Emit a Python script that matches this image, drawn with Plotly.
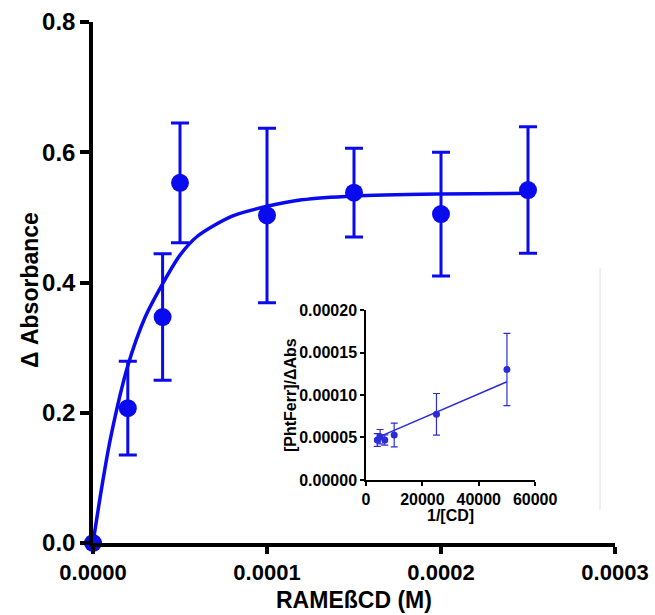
import plotly.graph_objects as go

# ---- Main data: absorbance change vs RAMEßCD concentration ----
conc_M = [0, 0.00002, 0.00004, 0.00005, 0.0001, 0.00015, 0.0002, 0.00025]
delta_abs = [0, 0.207, 0.347, 0.553, 0.503, 0.538, 0.505, 0.542]
delta_abs_err = [0, 0.072, 0.097, 0.092, 0.134, 0.068, 0.095, 0.097]

# fitted saturation curve
fit_x = [0, 0.000005, 0.00001, 0.00002, 0.00003, 0.00004, 0.00005, 0.00006,
         0.00008, 0.0001, 0.00012, 0.00015, 0.0002, 0.00025]
fit_y = [0, 0.085, 0.16, 0.272, 0.347, 0.398, 0.442, 0.471,
         0.502, 0.517, 0.527, 0.533, 0.536, 0.537]

# ---- Inset data: double reciprocal plot ----
inv_cd = [4000, 5000, 6667, 10000, 25000, 50000]
ratio = [0.0000471, 0.0000509, 0.0000471, 0.0000529, 0.0000773, 0.000130]
ratio_err = [0.0000075, 0.0000085, 0.000006, 0.000014, 0.0000245, 0.0000425]
line_x = [4000, 50000]
line_y = [0.0000498, 0.0001157]

main_x_ticks = [0, 0.0001, 0.0002, 0.0003]
main_y_ticks = [0, 0.2, 0.4, 0.6, 0.8]
inset_x_ticks = [0, 20000, 40000, 60000]
inset_y_ticks = [0, 0.00005, 0.0001, 0.00015, 0.0002]

BLUE = "#0a0aee"
IBLUE = "#2b2bd8"
FONT = "Liberation Sans, Arial, sans-serif"

fig = go.Figure()

fig.add_trace(go.Scatter(
    x=fit_x, y=fit_y, mode="lines", line=dict(color=BLUE, width=3.5, shape="spline", smoothing=0.8),
    hoverinfo="skip", showlegend=False, cliponaxis=False))
fig.add_trace(go.Scatter(
    x=conc_M, y=delta_abs, mode="markers",
    marker=dict(color=BLUE, size=18),
    error_y=dict(type="data", array=delta_abs_err, color=BLUE, thickness=3, width=9),
    showlegend=False, cliponaxis=False))

# inset
fig.add_trace(go.Scatter(
    x=line_x, y=line_y, mode="lines", line=dict(color=IBLUE, width=1.5),
    xaxis="x2", yaxis="y2", showlegend=False, hoverinfo="skip"))
fig.add_trace(go.Scatter(
    x=inv_cd, y=ratio, mode="markers",
    marker=dict(color=IBLUE, size=7),
    error_y=dict(type="data", array=ratio_err, color=IBLUE, thickness=1.2, width=3.5),
    xaxis="x2", yaxis="y2", showlegend=False, cliponaxis=False))

tickfont_x = dict(family=FONT, size=22, color="black", weight="bold")
tickfont_y = dict(family=FONT, size=24, color="black", weight="bold")
tickfont_inset = dict(family=FONT, size=16, color="black", weight="bold")
title_main = dict(family=FONT, size=23, color="black", weight="bold")
title_inset = dict(family=FONT, size=16, color="black", weight="bold")

fig.update_layout(
    width=655, height=615,
    margin=dict(l=93, r=40, t=22, b=72),
    paper_bgcolor="white", plot_bgcolor="rgba(0,0,0,0)",
    xaxis=dict(
        range=[0, 0.0003], tickvals=main_x_ticks, tickformat=".4f", automargin=False,
        showline=True, linecolor="black", linewidth=3.5,
        ticks="outside", ticklen=7, tickwidth=3.5, tickcolor="black",
        showgrid=False, zeroline=False, tickfont=tickfont_x,
    ),
    yaxis=dict(
        range=[0, 0.8], tickvals=main_y_ticks, tickformat=".1f", automargin=False,
        showline=True, linecolor="black", linewidth=3.5,
        ticks="outside", ticklen=9, tickwidth=3.5, tickcolor="black",
        showgrid=False, zeroline=False, tickfont=tickfont_y,
    ),
    xaxis2=dict(
        domain=[0.523, 0.847], anchor="y2", range=[0, 60000], tickvals=inset_x_ticks, tickformat="d",
        automargin=False,
        showline=True, linecolor="black", linewidth=1.5,
        ticks="outside", ticklen=4, tickwidth=1.5, tickcolor="black",
        showgrid=False, zeroline=False, tickfont=tickfont_inset,
    ),
    yaxis2=dict(
        domain=[0.121, 0.447], anchor="x2", range=[0, 0.0002], tickvals=inset_y_ticks, tickformat=".5f",
        automargin=False,
        showline=True, linecolor="black", linewidth=1.5,
        ticks="outside", ticklen=4, tickwidth=1.5, tickcolor="black",
        showgrid=False, zeroline=False, tickfont=tickfont_inset,
    ),
    annotations=[
        dict(text="RAMEßCD (M)", xref="paper", yref="paper", x=0.5, y=-0.1094,
             xanchor="center", yanchor="middle", showarrow=False, font=title_main),
        dict(text="Δ Absorbance", xref="paper", yref="paper", x=-0.1207, y=0.4856, textangle=-90,
             xanchor="center", yanchor="middle", showarrow=False, font=title_main),
        dict(text="1/[CD]", xref="paper", yref="paper", x=0.684, y=0.052,
             xanchor="center", yanchor="middle", showarrow=False, font=title_inset),
        dict(text="[PhtFerr]/ΔAbs", xref="paper", yref="paper", x=0.3774, y=0.284, textangle=-90,
             xanchor="center", yanchor="middle", showarrow=False, font=title_inset),
    ],
    shapes=[dict(type="line", xref="paper", yref="paper", x0=0.9713, x1=0.9713, y0=0.063, y1=0.528,
                 line=dict(color="#ebebeb", width=1.5), layer="below")],
)

fig.write_html("out.html")
